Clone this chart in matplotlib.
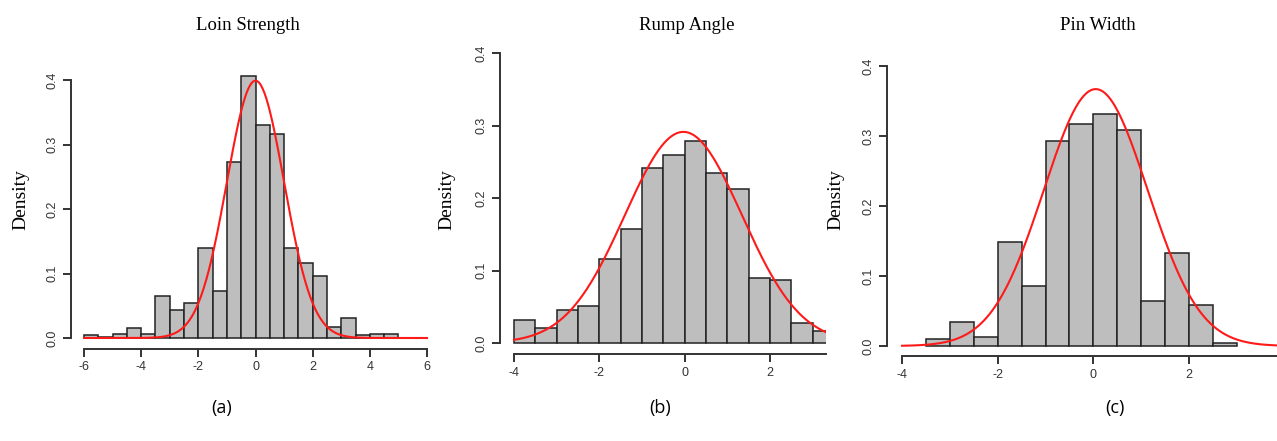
import numpy as np
import matplotlib
matplotlib.use("Agg")
import matplotlib.pyplot as plt

W, H = 1277, 441
plt.rcParams["axes.unicode_minus"] = False

# histogram densities, 0.5 wide bins
loin_start = -6.0
loin_heights = [0.004, 0.002, 0.006, 0.016, 0.006, 0.0655, 0.043, 0.054, 0.139, 0.073, 0.273,
                0.406, 0.331, 0.316, 0.139, 0.116, 0.0965, 0.0165, 0.0315, 0.004, 0.006, 0.006]
loin_mu, loin_sd = 0.0, 1.0

rump_start = -4.0
rump_heights = [0.032, 0.021, 0.045, 0.051, 0.116, 0.157, 0.241, 0.259, 0.278, 0.234,
                0.212, 0.089, 0.087, 0.027, 0.016]
rump_mu, rump_sd = -0.03, 1.37

pin_start = -3.5
pin_heights = [0.0105, 0.035, 0.013, 0.149, 0.086, 0.293, 0.3175, 0.332, 0.308, 0.064,
               0.1325, 0.058, 0.004]
pin_mu, pin_sd = 0.05, 1.087

bin_w = 0.5
titles = ["Loin Strength", "Rump Angle", "Pin Width"]
panel_tags = ["(a)", "(b)", "(c)"]
xticks_list = [[-6, -4, -2, 0, 2, 4, 6], [-4, -2, 0, 2], [-4, -2, 0, 2]]
yticks = [0.0, 0.1, 0.2, 0.3, 0.4]


def make_ax(fig, xa, pxa, xb, pxb, py0, py4, left, bottom, right, top):
    sx = (pxb - pxa) / (xb - xa)
    sy = (py0 - py4) / 0.4
    xlo = xa + (left - pxa) / sx
    xhi = xa + (right - pxa) / sx
    ylo = -(bottom - py0) / sy
    yhi = (py0 - top) / sy
    ax = fig.add_axes([left / W, 1 - bottom / H, (right - left) / W, (bottom - top) / H])
    ax.set_xlim(xlo, xhi)
    ax.set_ylim(ylo, yhi)
    return ax


def norm_pdf(x, mu, sd):
    return np.exp(-0.5 * ((x - mu) / sd) ** 2) / (sd * np.sqrt(2 * np.pi))


fig = plt.figure(figsize=(W / 100, H / 100), dpi=100)

layouts = [
    dict(xa=-6, pxa=84, xb=6, pxb=427, py0=338, py4=80, left=71, bottom=349, right=432, top=62),
    dict(xa=-4, pxa=514, xb=2, pxb=770, py0=343, py4=53, left=500, bottom=354, right=826, top=45),
    dict(xa=-4, pxa=902, xb=2, pxb=1189, py0=346, py4=66, left=887, bottom=356, right=1277, top=58),
]
data = [(loin_start, loin_heights, loin_mu, loin_sd, -6, 6),
        (rump_start, rump_heights, rump_mu, rump_sd, -4, 3.6),
        (pin_start, pin_heights, pin_mu, pin_sd, -4, 4.2)]
title_x = [248, 687, 1098]
ylab_x = [21, 447, 836]
tag_x = [222, 660, 1115]

for i, (lay, (start, heights, mu, sd, c0, c1)) in enumerate(zip(layouts, data)):
    ax = make_ax(fig, **lay)
    lefts = start + bin_w * np.arange(len(heights))
    ax.bar(lefts, heights, width=bin_w, align="edge", color="#bebebe",
           edgecolor="#222222", linewidth=1.1)
    xs = np.linspace(c0, c1, 400)
    ax.plot(xs, norm_pdf(xs, mu, sd), color="#ff1a1a", lw=1.5)

    ax.spines["top"].set_visible(False)
    ax.spines["right"].set_visible(False)
    for s in ("left", "bottom"):
        ax.spines[s].set_color("#333333")
        ax.spines[s].set_linewidth(1.4)
    ax.spines["left"].set_bounds(0, 0.4)
    xt = xticks_list[i]
    ax.spines["bottom"].set_bounds(xt[0], xt[-1] if i == 0 else ax.get_xlim()[1])
    ax.set_xticks(xt)
    ax.set_yticks(yticks)
    ax.set_yticklabels([f"{v:.1f}" for v in yticks], rotation=90, va="center")
    ax.tick_params(direction="out", length=6, width=1.4, color="#333333",
                   labelsize=9, labelcolor="#333333", pad=3)
    for lab in ax.get_xticklabels() + ax.get_yticklabels():
        lab.set_family("Liberation Sans")

    fig.text(title_x[i] / W, 1 - 25 / H, titles[i], ha="center", va="center",
             family="Liberation Serif", fontsize=13.5)
    fig.text(ylab_x[i] / W, 1 - 200 / H, "Density", ha="center", va="center",
             rotation=90, family="Liberation Serif", fontsize=14)
    fig.text(tag_x[i] / W, 1 - 408 / H, panel_tags[i], ha="center", va="center",
             family="Open Sans", fontsize=13)

fig.savefig("out.png", dpi=100)
